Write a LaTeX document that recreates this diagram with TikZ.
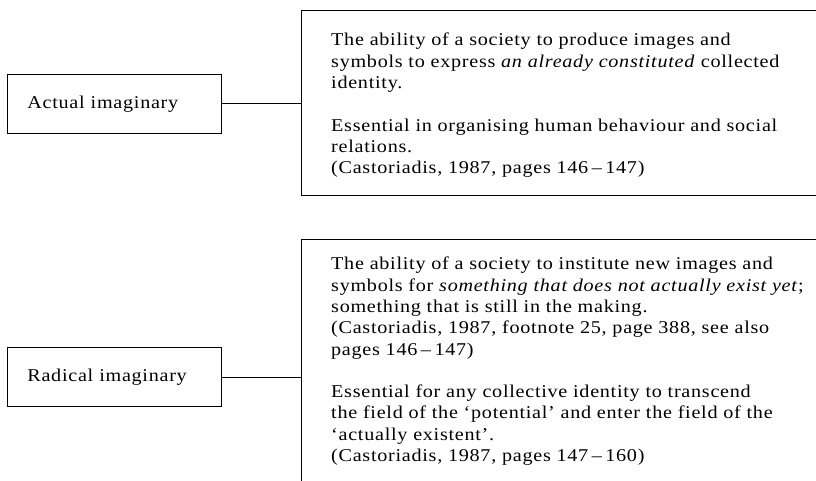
\documentclass[tikz,border=0pt]{standalone}
\usepackage{fontspec}
\setmainfont[FakeStretch=1.12,LetterSpace=4]{Liberation Serif}
\newcommand{\pgrange}[2]{#1\hspace{3.5pt}–\hspace{3.5pt}#2}
\begin{document}
\begin{tikzpicture}[x=1pt,y=-1pt,
  every node/.style={font=\fontsize{18}{21.3}\selectfont},
  frame/.style={draw, line width=0.8pt, inner sep=0pt, anchor=north west},
  label/.style={frame, text width=174pt, inner xsep=20pt, align=left, minimum height=59pt},
  body/.style={inner sep=0pt, anchor=north west, align=left},
  link/.style={line width=0.8pt}]
\useasboundingbox (0,0) rectangle (816,481);
\clip (0,0) rectangle (816,481);
% top
\node[label] (act) at (7,74) {Actual imaginary};
\node[frame, minimum width=540pt, minimum height=185pt] (actbox) at (301,10) {};
\node[body] (acttext) at (331,33) {The ability of a society to produce images and\\
symbols to express \textit{an already constituted} collected\\
identity.\\[21.3pt]
Essential in organising human behaviour and social\\
relations.\\
(Castoriadis, 1987, pages \pgrange{146}{147})};
\draw[link] (act.east) -- (act.east -| actbox.west);
% bottom
\node[label] (rad) at (7,347) {Radical imaginary};
\node[frame, minimum width=540pt, minimum height=300pt] (radbox) at (301,239) {};
\node[body] (radtext) at (331,257) {The ability of a society to institute new images and\\
symbols for \textit{something that does not actually exist yet};\\
something that is still in the making.\\
(Castoriadis, 1987, footnote 25, page 388, see also\\
pages \pgrange{146}{147})\\[21.3pt]
Essential for any collective identity to transcend\\
the field of the ‘potential’ and enter the field of the\\
‘actually existent’.\\
(Castoriadis, 1987, pages \pgrange{147}{160})};
\draw[link] (rad.east) -- (rad.east -| radbox.west);
\end{tikzpicture}
\end{document}
